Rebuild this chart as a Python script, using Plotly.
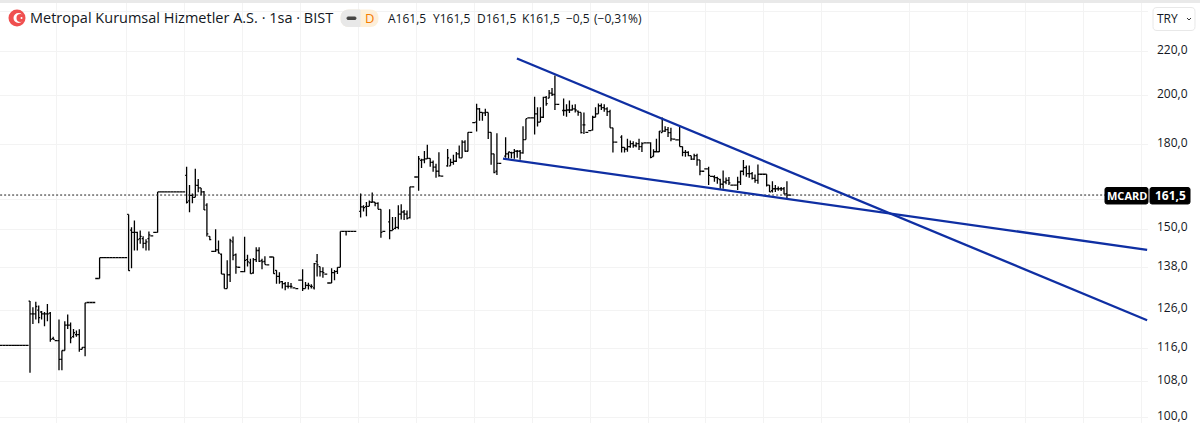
import plotly.graph_objects as go

W, H = 1200, 423
PLOT_R, PLOT_T = 1148, 3

# hourly bars (None = no bar drawn there)
opens = [
    116.8, 116.8, 116.8, 116.8, 116.8, 116.8, 116.8, 116.8, 116.8, 116.8,
    128.5, 125, 125, 126, 125.5, 125, 125, 125.2, 118.5, 118,
    118, 113.3, 115.5, 122, 122, 119, 119.5, 119.5, 115.8, 116.3,
    128.1, 128.1, 128.1, 134.9, 134.9, 141.1, 141.1, 141.1, 141.1, 141.1,
    141.1, 141.1, 141.1, 141.1, 154.9, 149.7, 149, 149, 147, 147,
    145.5, 147, 147.9, 149, 149, 162.6, 162.6, 162.6, 162.6, 162.6,
    162.6, 162.6, 162.6, 162.6, 168.5, 159.5, 161.4, 160.7, 164.9, 164,
    162.6, 158, 147.7, 143, 143, 143.5, 142.2, 136.2, 132, 136,
    146, 142, 138.2, 136.9, 136.9, 140.5, 139.5, 136.5, 140.5, 143.3,
    140.2, 140, 138.9, 141.3, 141.3, 137.3, 135.5, 134, 133.4, 132.6,
    132.6, 132.2, 132, 134.4, 134.4, 132, 132.9, 132.6, 132.2, 140,
    138.4, 136.9, 136.2, 133.6, 133.6, 136.6, 137, 138.2, 149.3, 149.3,
    149.3, 149.3, 149.3, None, 155.9, 157.4, 157.5, 157.6, 159, 159,
    158.6, 156.6, 149.3, None, 152.4, 149.6, 150.3, 150.6, 155, 155.7,
    155, 153.8, 164.4, 167.9, 167.9, 174, 174.2, 174.6, 174.8, 173.3,
    171.5, 170, 168.2, None, 172, 172, 173.3, 173.7, 176.5, 175,
    181, 177.5, 184.9, 188.8, 189, 194.5, 193, 192.8, 193, 184.9,
    176.5, 170, 172.9, None, 175.6, 176.5, 177, 177, 177.5, 177.5,
    176.9, 182, 190.7, 190.7, 190.7, 192.4, 189, 191, 199.4, 199,
    201.2, 200.6, 196.4, None, 193.8, 193.8, 194, 194, 194.5, 193.5,
    193, 187.9, 184.9, 185.6, 185.8, 191, 192.4, 195.8, 195, 194.5,
    193.3, 186.7, 181, None, 183, 179, 178.3, 179.3, 180.4, 179.7,
    180.4, 179.3, 180.7, 180.7, 180.7, 175.5, 177.3, 177.3, 184.8, 185.4,
    186, 184.8, 182.2, 181.9, 181.9, 179.3, 177.1, 177.1, 175.8, 174.5,
    175.8, 174.2, 170, 170.9, 170.9, 168.1, 168, 167.7, 167, 165.3,
    166.1, 166.7, 165, 165, 165, 166.1, 170, 171.3, 169.1, 169.1,
    167.4, 166.7, 168.9, 168.9, 168.9, 165, 163, 163.7, 163.7, 163.7,
    163.7, 162, 161.5,
]
highs = [
    116.8, 116.8, 116.8, 116.8, 116.8, 116.8, 116.8, 116.8, 116.8, 116.8,
    128.5, 126.8, 128.3, 127.3, 125.8, 125.5, 127.7, 125.5, 119, 118,
    123.5, 115.5, 123, 124.8, 122.7, 121, 120.6, 120.9, 116.3, 128,
    128.1, 128.1, 128.1, 134.9, 141.1, 141.1, 141.1, 141.1, 141.1, 141.1,
    141.1, 141.1, 141.1, 141.1, 154.9, 150.7, 152.9, 149.2, 149.6, 147.8,
    146.8, 149.3, 147.9, 149, 162.6, 162.6, 162.6, 162.6, 162.6, 162.6,
    162.6, 162.6, 162.6, 162.6, 171.7, 165, 162, 170.9, 167.2, 164,
    162.9, 158.7, 147.8, 143, 150, 146.4, 142.4, 136.3, 140.3, 147,
    147.7, 142.4, 138.4, 136.9, 147.6, 142, 140.8, 141, 144.3, 144.3,
    140.8, 141.5, 138.9, 141.3, 141.3, 137.3, 136.7, 134.2, 133.9, 133.9,
    133.6, 132.2, 132, 134.4, 137.6, 133.9, 133.7, 133.2, 139.5, 142.2,
    138.4, 138.2, 136.2, 133.6, 137.9, 137.4, 138.2, 149.3, 149.3, 149.3,
    149.3, 149.3, 149.3, None, 162, 158, 159.1, 159.6, 162.4, 159,
    159, 156.6, 149.3, None, 156.6, 154, 154, 158, 158.3, 156.4,
    156.2, 164.4, 164.4, 167.9, 175.7, 174.6, 177.6, 180, 174.8, 174,
    172.8, 177.1, 168.2, None, 178.4, 174.6, 176.2, 177.2, 179.7, 181.8,
    181.8, 184.9, 184.9, 188.8, 196.6, 194.8, 193, 194.5, 193, 184.9,
    176.5, 184.5, 172.9, None, 182.9, 177.3, 177.3, 178.4, 178, 178,
    187.3, 190.4, 190.7, 190.7, 199.6, 195.2, 195.2, 199.6, 200, 202.6,
    203.4, 209, 196.4, None, 198.9, 196.4, 198, 196.2, 196.4, 193.8,
    193, 193, 184.9, 185.6, 191.6, 195.2, 196.7, 196.7, 196.4, 195.2,
    194.1, 186.7, 181, None, 183.7, 179, 182.3, 181.7, 181.4, 181,
    182.3, 181, 180.7, 180.7, 181, 178.3, 182.3, 185.4, 190.9, 187.3,
    187, 186.7, 182.2, 181.9, 187, 179.3, 178, 177.5, 175.8, 176.5,
    176.5, 174.2, 170, 170.9, 171.7, 168.1, 168.5, 168, 167.3, 170.3,
    167.7, 167.9, 165, 165, 168, 170.3, 174.2, 172.1, 172.1, 169.7,
    168.8, 172.5, 168.9, 168.9, 168.9, 165, 166.4, 165, 164.5, 164.3,
    164.3, 166.4, 161.5,
]
lows = [
    116.8, 116.8, 116.8, 116.8, 116.8, 116.8, 116.8, 116.8, 116.8, 116.8,
    110.1, 122.3, 123.5, 122.5, 123.5, 121.7, 123, 117.7, 118.3, 118,
    110.7, 110.7, 115.5, 121, 117.3, 118.7, 119, 115.2, 115.8, 114.1,
    128.1, 128.1, 128.1, 134.9, 134.9, 141.1, 141.1, 141.1, 141.1, 141.1,
    141.1, 141.1, 141.1, 141.1, 137.2, 137.9, 143.3, 143.3, 145.4, 144,
    143.3, 143.3, 147.9, 149, 149, 162.6, 162.6, 162.6, 162.6, 162.6,
    162.6, 162.6, 162.6, 162.6, 158.6, 155.6, 158.7, 160.7, 162.5, 161.4,
    156.4, 147.7, 146.5, 143, 142.8, 142.4, 136.2, 132, 132, 133.9,
    140.3, 136.3, 138, 136.9, 136.7, 138.4, 136.3, 136.3, 139.8, 139.8,
    137.6, 139, 138.9, 141.3, 136.3, 133.4, 133.4, 132, 131.5, 132,
    132, 132.2, 132, 134.4, 131.3, 132, 131.7, 132, 131.7, 135.5,
    135.5, 135.1, 136.2, 133.6, 133.6, 134.4, 136.2, 138.2, 149.3, 148,
    149.3, 149.3, 149.3, None, 153.9, 155.9, 154.3, 157.6, 159, 157.6,
    156.6, 147.3, 149.3, None, 146.8, 149.6, 150, 150, 153.2, 153,
    153.2, 153.5, 164.4, 167.9, 163, 171.2, 173, 174.6, 171.7, 169.8,
    167.6, 168, 168.2, None, 171.7, 172, 172.4, 173.4, 174.8, 175,
    177.3, 177.4, 184.9, 188.8, 185.2, 189.6, 189.6, 191.5, 182.2, 172.4,
    169.3, 168.6, 172.9, None, 175, 174.6, 174.8, 174.6, 175, 174.3,
    176.5, 182, 190.7, 190.7, 184, 187.2, 189, 190.7, 195.8, 199,
    200, 194, 196.4, None, 191.6, 191.2, 192.8, 193.8, 193, 191.6,
    184.4, 184.2, 184.9, 185.6, 185.6, 191, 192.4, 194, 193.3, 191.5,
    186.7, 177, 181, None, 177, 177, 177.3, 178.8, 178.8, 179,
    178, 177.2, 180.7, 180.7, 174.8, 175.5, 177, 177.2, 184.8, 185,
    183, 181.4, 182.2, 181.9, 179.3, 175.6, 175.4, 175.6, 174.2, 174.2,
    172, 168.5, 170, 170.9, 165, 168.1, 166.2, 165.5, 163.7, 163.7,
    165.3, 165, 165, 165, 163.3, 165, 168.5, 168, 167.6, 167,
    165.8, 165.5, 168.9, 168.9, 164.5, 162.6, 162.4, 162.6, 163, 162.9,
    161.8, 160.4, 161.5,
]
closes = [
    116.8, 116.8, 116.8, 116.8, 116.8, 116.8, 116.8, 116.8, 116.8, 116.8,
    125, 125, 127, 124, 125, 125, 125, 118.3, 118.3, 118,
    113.3, 115.5, 122, 122, 118.7, 120, 119.5, 115.8, 116.3, 128,
    128.1, 128.1, 128.1, 134.9, 141.1, 141.1, 141.1, 141.1, 141.1, 141.1,
    141.1, 141.1, 141.1, 141.1, 137.2, 149, 149, 146.7, 147.7, 145.5,
    146, 148.2, 147.9, 149, 162.6, 162.6, 162.6, 162.6, 162.6, 162.6,
    162.6, 162.6, 162.6, 162.6, 159, 161.4, 160.7, 164.9, 164, 162.6,
    156.4, 148.5, 146.7, 143, 143.5, 142.5, 136.2, 132, 136, 146.4,
    141.8, 138.3, 138.2, 136.9, 140.3, 139.8, 136.3, 140.5, 143.3, 140,
    139.8, 139, 138.9, 141.3, 136.3, 135.5, 133.9, 133.4, 132.6, 132.6,
    132.6, 132.2, 132, 134.4, 132, 132.9, 132.9, 132.6, 139.3, 138.9,
    136.9, 136.6, 136.2, 133.6, 136.6, 136.9, 138.2, 149.3, 149.3, 149.3,
    149.3, 149.3, 149.3, None, 157.4, 157.2, 157.6, 159.1, 159.1, 158.6,
    156.6, 149, 149.3, None, 149.6, 150, 150.6, 155, 155.7, 155,
    153.6, 164.4, 164.4, 167.9, 174.6, 174.2, 174.6, 174.8, 173.3, 171.5,
    170, 168.4, 168.2, None, 175, 173.3, 173.7, 176.5, 175, 181,
    177.5, 184.9, 184.9, 188.8, 194.5, 193, 192.8, 193, 184.9, 176.5,
    169.5, 172.9, 172.9, None, 176.5, 177.2, 176.9, 177.5, 177.5, 176.9,
    182, 190.4, 190.7, 190.7, 192.4, 189, 191, 199.4, 196.7, 201.2,
    200.6, 196.4, 196.4, None, 193.8, 194, 194, 194.5, 194, 193,
    184.8, 187.9, 184.9, 185.6, 191, 192.4, 195.8, 195, 194.5, 193.3,
    186.7, 181, 181, None, 179, 178.3, 179.3, 180.4, 179.7, 180.4,
    179.3, 180.4, 180.7, 180.7, 175.2, 177.3, 177.3, 185.4, 185.4, 186,
    184.8, 182.3, 182.2, 181.9, 179.3, 177.1, 177.1, 175.8, 174.5, 175.8,
    174.2, 170, 170, 170.9, 168.5, 168.1, 167.7, 167.3, 165.3, 166.1,
    166.7, 165.8, 165, 165, 166.1, 170, 171.3, 169.1, 169.1, 167.4,
    166.7, 168.9, 168.9, 168.9, 165, 162.6, 163.7, 163.7, 163.7, 163.7,
    161.8, 161.5, 161.5,
]

# trendlines drawn by the author (bar number, price)
upper_x = [177.9, 395.2]
upper_y = [216.8, 123.3]
lower_x = [173.1, 395.2]
lower_y = [174.7, 143.5]

last_price = 161.5

price_ticks = [100, 108, 116, 126, 138, 150, 160, 180, 200, 220, 240]
price_labels = ["100,0", "108,0", "116,0", "126,0", "138,0", "150,0", "", "180,0", "200,0", "220,0", ""]
time_ticks = [19.2, 43.1, 63.4, 83.4, 103.4, 123.4, 143.4, 163.1, 183.1, 203.1, 223.1,
              242.8, 262.8, 282.9, 313.2, 333.2, 353.2, 373.2, 393.3]

BLUE = "#0f2fa3"
TEXT = "#131722"
FONT = "Open Sans"
GRID = "#f3f3f3"


def px(x):
    return x / PLOT_R


def py(y):
    return 1 - (y - PLOT_T) / (H - PLOT_T)


def round_rect(x0, y0, x1, y1, rl, rr=None):
    # rounded box in picture pixels, turned into a paper-space path
    rr = rl if rr is None else rr
    pts = [
        ("M", x0 + rl, y0), ("L", x1 - rr, y0), ("Q", x1, y0, x1, y0 + rr), ("L", x1, y1 - rr),
        ("Q", x1, y1, x1 - rr, y1), ("L", x0 + rl, y1), ("Q", x0, y1, x0, y1 - rl), ("L", x0, y0 + rl),
        ("Q", x0, y0, x0 + rl, y0),
    ]
    out = []
    for p in pts:
        coords = p[1:]
        xy = [f"{px(coords[k]):.5f},{py(coords[k + 1]):.5f}" for k in range(0, len(coords), 2)]
        out.append(p[0] + " ".join(xy))
    return " ".join(out) + " Z"


def box(fig, x0, y0, x1, y1, r, color, border=None, rr=None):
    fig.add_shape(type="path", path=round_rect(x0, y0, x1, y1, r, rr), xref="paper", yref="paper",
                  fillcolor=color, line=dict(color=border or color, width=1), layer="above")


def circle(fig, cx, cy, r, color):
    fig.add_shape(type="circle", xref="paper", yref="paper", x0=px(cx - r), x1=px(cx + r),
                  y0=py(cy + r), y1=py(cy - r), fillcolor=color, line=dict(width=0), layer="above")


def label(fig, x, y, text, size=12, color=TEXT, anchor="left", bold=False):
    fig.add_annotation(x=px(x), y=py(y), xref="paper", yref="paper", text=f"<b>{text}</b>" if bold else text,
                       showarrow=False, xanchor=anchor, yanchor="middle", borderpad=0,
                       font=dict(family=FONT, size=size, color=color))


fig = go.Figure()
fig.add_trace(go.Ohlc(
    x=list(range(len(opens))), open=opens, high=highs, low=lows, close=closes,
    increasing=dict(line=dict(color="#000000", width=1.3)),
    decreasing=dict(line=dict(color="#000000", width=1.3)),
    tickwidth=0.5, hoverinfo="skip",
))
fig.add_trace(go.Scatter(x=[-0.3, 380.7], y=[last_price, last_price], mode="lines",
                         line=dict(color="#222222", width=1, dash="2px,2px"), hoverinfo="skip"))
fig.add_trace(go.Scatter(x=upper_x, y=upper_y, mode="lines", line=dict(color=BLUE, width=2.3), hoverinfo="skip"))
fig.add_trace(go.Scatter(x=lower_x, y=lower_y, mode="lines", line=dict(color=BLUE, width=2.3), hoverinfo="skip"))

fig.update_layout(
    width=W, height=H, showlegend=False, paper_bgcolor="white", plot_bgcolor="white",
    margin=dict(l=0, r=W - PLOT_R, t=PLOT_T, b=0, pad=0, autoexpand=False),
    font=dict(family=FONT, color=TEXT),
)
fig.update_xaxes(range=[-0.345, 395.5], tickvals=time_ticks, showticklabels=False, ticks="", automargin=False,
                 showgrid=True, gridcolor=GRID, gridwidth=1, zeroline=False, showline=False,
                 rangeslider=dict(visible=False))
fig.update_yaxes(type="log", range=[1.99467, 2.38803], side="right", tickvals=price_ticks, ticktext=price_labels,
                 showgrid=True, gridcolor=GRID, gridwidth=1, zeroline=False, showline=False, ticks="", automargin=False,
                 ticklabelstandoff=8, ticklabelshift=-2, ticklabeloverflow="allow",
                 tickfont=dict(family=FONT, size=12, color=TEXT))

# grey strip above the chart
fig.add_shape(type="rect", xref="paper", yref="paper", x0=0, x1=px(W), y0=py(PLOT_T), y1=py(0),
              fillcolor="#e9e9e9", line=dict(width=0), layer="above")

# header: flag, name, status pill, quote values
circle(fig, 17, 18, 8.5, "#ef4f4f")
circle(fig, 18.5, 18, 5, "white")
circle(fig, 20.5, 18, 4, "#ef4f4f")
circle(fig, 21.5, 18, 1, "white")
label(fig, 29, 18, "Metropal Kurumsal Hizmetler A.S. · 1sa · BIST", size=14.5)
box(fig, 341, 10, 378, 26.5, 8, "#fdefd9")
box(fig, 341, 10, 360, 26.5, 8, "#e8e8e8", rr=0)
box(fig, 347, 17, 356, 19.5, 1, "#444444")
label(fig, 364, 18.5, "D", size=13, color="#f57c00")
for x, txt in [(387, "A161,5"), (432, "Y161,5"), (476, "D161,5"), (521, "K161,5"), (565, "−0,5"), (593, "(−0,31%)")]:
    label(fig, x, 18.5, txt)

# currency button
box(fig, 1153, 7.5, 1195, 30.5, 4, "white", border="#e8e8e8")
label(fig, 1156, 18.5, "TRY", size=12)
fig.add_shape(type="path", xref="paper", yref="paper", layer="above", line=dict(color="#333333", width=1),
              path=f"M{px(1187):.5f},{py(18):.5f} L{px(1189):.5f},{py(20):.5f} L{px(1191):.5f},{py(18):.5f}")

# symbol and last price flags
box(fig, 1105, 187.5, 1148, 204, 2, "#000000")
box(fig, 1150, 187.5, 1190, 204, 2, "#000000")
label(fig, 1126.5, 196, "MCARD", size=11, color="white", anchor="center", bold=True)
label(fig, 1170, 195.5, "161,5", size=12, color="white", anchor="center", bold=True)

fig.write_html("out.html", config={"displayModeBar": False}, post_script="document.body.style.margin='0';")
